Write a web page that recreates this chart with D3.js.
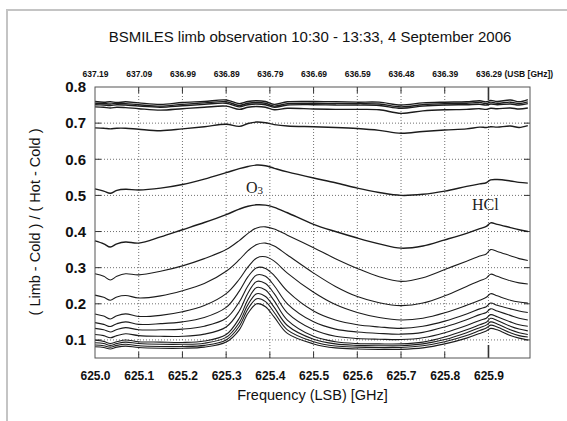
<!DOCTYPE html>
<html>
<head>
<meta charset="utf-8">
<script src="https://cdn.jsdelivr.net/npm/d3@7"></script>
<style>
  body { margin: 0; background: #fff; }
  svg { display: block; font-family: "Liberation Sans", Arial, sans-serif; }
</style>
</head>
<body>
<svg id="chart" width="567" height="421"></svg>
<script>
// frequency grid (LSB, GHz) shared by all scans
var freqLSB = [625.00, 625.02, 625.035, 625.05, 625.07, 625.10, 625.15, 625.20, 625.25, 625.30,
               625.33, 625.35, 625.37, 625.39, 625.41, 625.44, 625.50, 625.55, 625.60, 625.65,
               625.70, 625.75, 625.80, 625.85, 625.88, 625.895, 625.905, 625.92, 625.95, 625.97, 625.99];

// (Limb - Cold) / (Hot - Cold), one array per scan, top to bottom
var scan01 = [0.760,0.758,0.759,0.757,0.759,0.756,0.752,0.757,0.760,0.764, 0.754,0.760,0.762,0.760,0.752,0.759,0.760,0.759,0.758,0.758, 0.750,0.756,0.758,0.759,0.762,0.759,0.763,0.760,0.764,0.759,0.765];
var scan02 = [0.755,0.754,0.753,0.755,0.754,0.751,0.747,0.752,0.756,0.759, 0.749,0.755,0.757,0.755,0.747,0.754,0.755,0.754,0.754,0.753, 0.745,0.751,0.754,0.755,0.757,0.754,0.758,0.755,0.758,0.754,0.759];
var scan03 = [0.751,0.750,0.749,0.751,0.750,0.747,0.744,0.748,0.752,0.755, 0.745,0.751,0.753,0.751,0.744,0.750,0.751,0.750,0.750,0.749, 0.741,0.747,0.750,0.751,0.752,0.750,0.753,0.751,0.753,0.750,0.754];
var scan04 = [0.745,0.744,0.742,0.744,0.743,0.740,0.736,0.740,0.744,0.747, 0.738,0.744,0.746,0.744,0.737,0.741,0.739,0.738,0.738,0.737, 0.727,0.734,0.737,0.738,0.740,0.738,0.741,0.740,0.742,0.739,0.742];
var scan05 = [0.687,0.686,0.684,0.686,0.686,0.683,0.679,0.684,0.690,0.697, 0.691,0.699,0.703,0.701,0.696,0.692,0.690,0.688,0.685,0.680, 0.672,0.677,0.681,0.684,0.689,0.688,0.690,0.689,0.692,0.688,0.693];
var scan06 = [0.518,0.512,0.506,0.514,0.517,0.515,0.520,0.530,0.545,0.563, 0.574,0.580,0.584,0.582,0.575,0.565,0.548,0.535,0.520,0.508, 0.500,0.503,0.512,0.525,0.532,0.535,0.543,0.544,0.540,0.536,0.534];
var scan07 = [0.374,0.366,0.357,0.366,0.371,0.368,0.385,0.405,0.425,0.447, 0.462,0.470,0.474,0.473,0.467,0.452,0.420,0.400,0.382,0.366, 0.354,0.360,0.377,0.395,0.408,0.414,0.424,0.420,0.411,0.405,0.400];
var scan08 = [0.283,0.276,0.266,0.276,0.283,0.280,0.290,0.305,0.325,0.350, 0.375,0.395,0.410,0.413,0.407,0.390,0.355,0.325,0.298,0.275, 0.262,0.272,0.295,0.318,0.332,0.338,0.350,0.345,0.333,0.325,0.320];
var scan09 = [0.224,0.218,0.210,0.219,0.223,0.216,0.222,0.236,0.256,0.290, 0.322,0.347,0.364,0.368,0.360,0.335,0.285,0.248,0.220,0.203, 0.195,0.202,0.222,0.248,0.264,0.271,0.282,0.276,0.264,0.258,0.255];
var scan10 = [0.172,0.166,0.158,0.167,0.172,0.165,0.168,0.178,0.195,0.228, 0.268,0.302,0.327,0.330,0.318,0.285,0.232,0.198,0.176,0.162, 0.155,0.160,0.175,0.196,0.210,0.218,0.228,0.222,0.210,0.205,0.202];
var scan11 = [0.148,0.143,0.137,0.145,0.150,0.143,0.145,0.150,0.162,0.190, 0.235,0.275,0.300,0.298,0.278,0.235,0.180,0.155,0.142,0.136, 0.132,0.138,0.152,0.172,0.186,0.192,0.202,0.196,0.186,0.180,0.176];
var scan12 = [0.132,0.128,0.122,0.129,0.134,0.128,0.128,0.130,0.138,0.160, 0.205,0.250,0.280,0.276,0.250,0.200,0.150,0.130,0.122,0.118, 0.116,0.121,0.136,0.156,0.170,0.176,0.186,0.180,0.168,0.160,0.155];
var scan13 = [0.115,0.112,0.106,0.112,0.117,0.112,0.110,0.110,0.116,0.136, 0.180,0.230,0.262,0.256,0.228,0.175,0.128,0.110,0.104,0.102, 0.101,0.106,0.120,0.140,0.154,0.160,0.170,0.164,0.150,0.142,0.138];
var scan14 = [0.099,0.096,0.090,0.095,0.100,0.095,0.094,0.093,0.097,0.115, 0.160,0.212,0.245,0.238,0.208,0.155,0.110,0.095,0.090,0.089, 0.089,0.094,0.108,0.128,0.142,0.149,0.160,0.154,0.138,0.130,0.125];
var scan15 = [0.092,0.090,0.085,0.090,0.094,0.090,0.088,0.088,0.091,0.107, 0.148,0.198,0.228,0.220,0.190,0.140,0.102,0.089,0.085,0.084, 0.084,0.089,0.101,0.120,0.134,0.141,0.150,0.144,0.128,0.120,0.115];
var scan16 = [0.086,0.084,0.080,0.085,0.088,0.084,0.082,0.082,0.085,0.100, 0.138,0.186,0.214,0.206,0.176,0.128,0.095,0.083,0.080,0.079, 0.079,0.084,0.095,0.112,0.126,0.133,0.141,0.136,0.120,0.112,0.108];
var scan17 = [0.081,0.079,0.075,0.080,0.083,0.079,0.077,0.077,0.080,0.094, 0.128,0.174,0.200,0.192,0.163,0.118,0.089,0.078,0.075,0.074, 0.074,0.078,0.089,0.105,0.118,0.125,0.132,0.128,0.112,0.105,0.100];

var scans = [scan01, scan02, scan03, scan04, scan05, scan06, scan07, scan08, scan09,
             scan10, scan11, scan12, scan13, scan14, scan15, scan16, scan17];

// ticks
var lsbTicks = [625.0, 625.1, 625.2, 625.3, 625.4, 625.5, 625.6, 625.7, 625.8, 625.9];
var usbTickLabels = ["637.19", "637.09", "636.99", "636.89", "636.79", "636.69", "636.59", "636.48", "636.39", "636.29"];
var yTicks = [0.1, 0.2, 0.3, 0.4, 0.5, 0.6, 0.7, 0.8];

var margins = { top: 87, right: 37, bottom: 63, left: 95 };
var width = 567, height = 421;

var svg = d3.select('#chart');

// outer frame (runs off the page right/bottom)
svg.append('path')
    .attr('d', 'M7,430 V10 H580')
    .attr('fill', 'none')
    .attr('stroke', '#c4c4c4')
    .attr('stroke-width', 2);

var x = d3.scaleLinear().domain([625.0, 625.995]).range([margins.left, width - margins.right]);
var y = d3.scaleLinear().domain([0.05, 0.8]).range([height - margins.bottom, margins.top]);

var x0 = x.range()[0], x1 = x.range()[1], y0 = y.range()[0], y1 = y.range()[1];

// grid
var grid = svg.append('g').attr('class', 'grid');
grid.selectAll('line.vx')
    .data(lsbTicks.slice(1))
    .enter().append('line')
    .attr('x1', function (d) { return x(d); })
    .attr('x2', function (d) { return x(d); })
    .attr('y1', y0).attr('y2', y1)
    .attr('stroke', '#707070')
    .attr('stroke-width', 1)
    .attr('stroke-dasharray', '1,2');
grid.selectAll('line.hy')
    .data(yTicks.slice(0, -1))
    .enter().append('line')
    .attr('y1', function (d) { return y(d); })
    .attr('y2', function (d) { return y(d); })
    .attr('x1', x0).attr('x2', x1)
    .attr('stroke', '#707070')
    .attr('stroke-width', 1)
    .attr('stroke-dasharray', '1,2');

// inner ticks on all four sides
var tickLen = function (d) { return d === 625.9 ? 13 : 6; };
lsbTicks.slice(1).forEach(function (d) {
    var w = d === 625.9 ? 1.6 : 1;
    grid.append('line').attr('x1', x(d)).attr('x2', x(d)).attr('y1', y1).attr('y2', y1 + tickLen(d))
        .attr('stroke', '#333').attr('stroke-width', w);
    grid.append('line').attr('x1', x(d)).attr('x2', x(d)).attr('y1', y0).attr('y2', y0 - tickLen(d))
        .attr('stroke', '#333').attr('stroke-width', w);
});
yTicks.slice(0, -1).forEach(function (d) {
    grid.append('line').attr('x1', x0).attr('x2', x0 + 6).attr('y1', y(d)).attr('y2', y(d))
        .attr('stroke', '#333');
    grid.append('line').attr('x1', x1).attr('x2', x1 - 6).attr('y1', y(d)).attr('y2', y(d))
        .attr('stroke', '#333');
});

// spectra
var line = d3.line()
    .x(function (d, i) { return x(freqLSB[i]); })
    .y(function (d) { return y(d); })
    .curve(d3.curveCatmullRom.alpha(0.5));

svg.append('g').attr('class', 'scans')
    .selectAll('path')
    .data(scans)
    .enter().append('path')
    .attr('d', line)
    .attr('fill', 'none')
    .attr('stroke', '#1c1c1c')
    .attr('stroke-width', function (d, i) { return i < 7 ? 1.4 : 1.1; });

// plot frame
svg.append('rect')
    .attr('x', x0).attr('y', y1)
    .attr('width', x1 - x0).attr('height', y0 - y1)
    .attr('fill', 'none')
    .attr('stroke', '#555')
    .attr('stroke-width', 1);

// axes
var xAxis = svg.append('g')
    .attr('transform', 'translate(0,' + y0 + ')')
    .call(d3.axisBottom(x).tickValues(lsbTicks).tickFormat(d3.format('.1f')).tickSize(0).tickPadding(13));
xAxis.select('.domain').remove();
xAxis.selectAll('text').attr('font-size', 12).attr('font-weight', 'bold').attr('fill', '#111')
    .attr('font-family', '"Liberation Sans", Arial, sans-serif');

var topAxis = svg.append('g')
    .attr('transform', 'translate(0,' + y1 + ')')
    .call(d3.axisTop(x).tickValues(lsbTicks)
        .tickFormat(function (d, i) { return usbTickLabels[i]; })
        .tickSize(0).tickPadding(10));
topAxis.select('.domain').remove();
topAxis.selectAll('text').attr('font-size', 8.5).attr('font-weight', 'bold').attr('fill', '#111')
    .attr('font-family', '"Liberation Sans", Arial, sans-serif');
var lastTop = topAxis.selectAll('.tick text').nodes().pop();
var lastW = lastTop.getComputedTextLength();
svg.append('text')
    .attr('x', x(625.9) + lastW / 2 + 3)
    .attr('y', y1 - 10)
    .attr('font-size', 8.5).attr('font-weight', 'bold').attr('fill', '#111')
    .text('(USB [GHz])');

var yAxis = svg.append('g')
    .attr('transform', 'translate(' + x0 + ',0)')
    .call(d3.axisLeft(y).tickValues(yTicks).tickFormat(d3.format('.1f')).tickSize(0).tickPadding(9));
yAxis.select('.domain').remove();
yAxis.selectAll('text').attr('font-size', 15).attr('font-weight', 'bold').attr('fill', '#111')
    .attr('font-family', '"Liberation Sans", Arial, sans-serif');

// titles
svg.append('text')
    .attr('x', 310).attr('y', 42)
    .attr('text-anchor', 'middle')
    .attr('font-size', 15).attr('fill', '#111')
    .text('BSMILES limb observation 10:30 - 13:33, 4 September 2006');

svg.append('text')
    .attr('x', (x0 + x1) / 2).attr('y', 400)
    .attr('text-anchor', 'middle')
    .attr('font-size', 14.5).attr('fill', '#111')
    .text('Frequency (LSB) [GHz]');

svg.append('text')
    .attr('transform', 'translate(40,' + 222 + ') rotate(-90)')
    .attr('text-anchor', 'middle')
    .attr('font-size', 14.5).attr('fill', '#111')
    .text('( Limb - Cold ) / ( Hot - Cold )');

// line labels
var o3 = svg.append('text')
    .attr('x', 246).attr('y', 193)
    .attr('font-family', '"Liberation Serif", "Times New Roman", serif')
    .attr('font-size', 16).attr('fill', '#222');
o3.append('tspan').text('O');
o3.append('tspan').attr('font-size', 11).attr('dy', 1).text('3');

svg.append('text')
    .attr('x', 472).attr('y', 210)
    .attr('font-family', '"Liberation Serif", "Times New Roman", serif')
    .attr('font-size', 16).attr('fill', '#222')
    .text('HCl');
</script>
</body>
</html>
